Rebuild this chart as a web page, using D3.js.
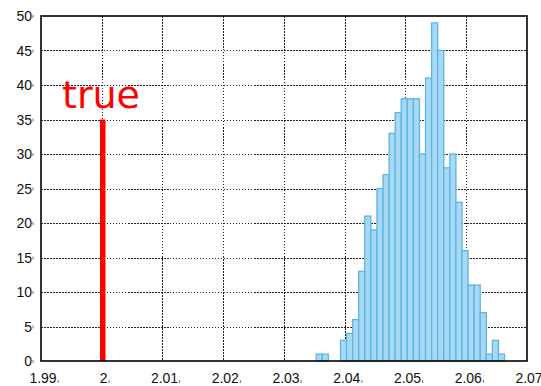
<!DOCTYPE html>
<html>
<head>
<meta charset="utf-8">
<script src="https://cdn.jsdelivr.net/npm/d3@7"></script>
<style>
  html, body { margin: 0; padding: 0; background: #fff; }
  svg { display: block; }
  .tick-label { font-family: "Liberation Sans", Arial, sans-serif; font-size: 14px; fill: #111; }
</style>
</head>
<body>
<svg id="chart" width="541" height="386"></svg>
<script>
// histogram of the estimates
const binStart = 2.0353;
const binWidth = 0.001;
const binCounts = [1, 1, 0, 0, 3, 4, 6, 13, 21, 19, 25, 27, 33, 36, 38, 38, 38, 30, 41, 49,
  45, 28, 30, 23, 16, 11, 11, 7, 1, 3, 1];

// axis ticks
const xTickValues = [1.99, 2.00, 2.01, 2.02, 2.03, 2.04, 2.05, 2.06, 2.07];
const xTickLabels = ["1.99", "2", "2.01", "2.02", "2.03", "2.04", "2.05", "2.06", "2.07"];
const yTickValues = [0, 5, 10, 15, 20, 25, 30, 35, 40, 45, 50];

// the true value marker
const trueValue = 2;
const trueHeight = 35;
const trueLabel = "true";

const svg = d3.select("#chart");
const plot = { left: 41, right: 527, top: 16, bottom: 361 };

const x = d3.scaleLinear().domain([1.99, 2.07]).range([plot.left, plot.right]);
const y = d3.scaleLinear().domain([0, 50]).range([plot.bottom, plot.top]);

// dotted grid
const grid = svg.append("g")
  .attr("stroke", "#222")
  .attr("stroke-width", 1)
  .attr("stroke-dasharray", "1.5,1.5")
  .attr("shape-rendering", "crispEdges");

grid.selectAll("line.gx")
  .data(xTickValues.slice(1, -1))
  .join("line")
  .attr("class", "gx")
  .attr("x1", d => Math.round(x(d)) + 0.5)
  .attr("x2", d => Math.round(x(d)) + 0.5)
  .attr("y1", plot.top)
  .attr("y2", plot.bottom);

grid.selectAll("line.gy")
  .data(yTickValues.slice(1, -1))
  .join("line")
  .attr("class", "gy")
  .attr("x1", plot.left)
  .attr("x2", plot.right)
  .attr("y1", d => Math.round(y(d)) + 0.5)
  .attr("y2", d => Math.round(y(d)) + 0.5);

// bars
const bins = binCounts.map((c, i) => ({ x0: binStart + i * binWidth, x1: binStart + (i + 1) * binWidth, count: c }))
  .filter(b => b.count > 0);

svg.append("g")
  .selectAll("rect")
  .data(bins)
  .join("rect")
  .attr("x", d => x(d.x0))
  .attr("y", d => y(d.count))
  .attr("width", d => x(d.x1) - x(d.x0))
  .attr("height", d => y(0) - y(d.count))
  .attr("fill", "#a7d9f4")
  .attr("stroke", "#5db4e6")
  .attr("stroke-width", 1.3);

// true value line
svg.append("line")
  .attr("x1", x(trueValue) + 1)
  .attr("x2", x(trueValue) + 1)
  .attr("y1", y(0))
  .attr("y2", y(trueHeight))
  .attr("stroke", "#ff0000")
  .attr("stroke-width", 5.5);

svg.append("text")
  .attr("x", 62)
  .attr("y", 108)
  .attr("fill", "#ff0000")
  .attr("font-family", "DejaVu Sans, sans-serif")
  .attr("font-size", 38)
  .text(trueLabel);

// frame
svg.append("rect")
  .attr("x", plot.left)
  .attr("y", plot.top)
  .attr("width", plot.right - plot.left)
  .attr("height", plot.bottom - plot.top)
  .attr("fill", "none")
  .attr("stroke", "#000")
  .attr("stroke-width", 1.6);

// y tick labels
const yl = svg.append("g");
yl.selectAll("text")
  .data(yTickValues)
  .join("text")
  .attr("class", "tick-label")
  .attr("x", 32)
  .attr("y", d => y(d) + 5)
  .attr("text-anchor", "end")
  .text(d => d);
yl.selectAll("rect")
  .data(yTickValues)
  .join("rect")
  .attr("x", 32.5)
  .attr("y", d => y(d) - 1)
  .attr("width", 1)
  .attr("height", 3)
  .attr("fill", "#777");

// x tick labels
const xl = svg.append("g");
const xText = xl.selectAll("text")
  .data(xTickValues)
  .join("text")
  .attr("class", "tick-label")
  .attr("x", d => x(d) + 2)
  .attr("y", 383)
  .attr("text-anchor", "middle")
  .text((d, i) => xTickLabels[i]);
const xNodes = xText.nodes();
xl.selectAll("rect")
  .data(xTickValues)
  .join("rect")
  .attr("x", (d, i) => x(d) + 2 + xNodes[i].getComputedTextLength() / 2 + 1)
  .attr("y", 380)
  .attr("width", 1)
  .attr("height", 3)
  .attr("fill", "#777");
</script>
</body>
</html>
